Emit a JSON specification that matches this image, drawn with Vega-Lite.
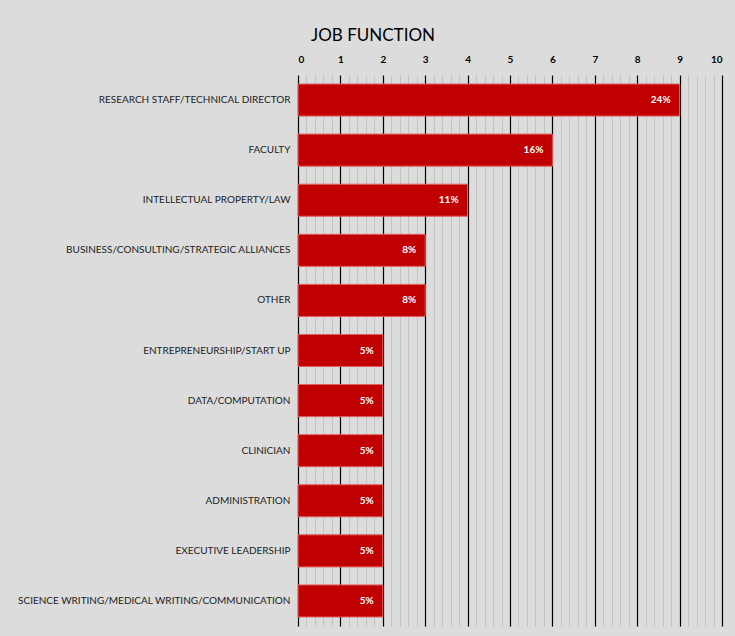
{
  "$schema": "https://vega.github.io/schema/vega-lite/v6.json",
  "autosize": {"type": "none"},
  "width": 424,
  "height": 551,
  "padding": {"left": 298, "top": 75, "right": 13, "bottom": 10},
  "background": "#dcdcdc",
  "title": {
    "text": "JOB FUNCTION",
    "font": "Lato",
    "fontSize": 17,
    "fontWeight": "normal",
    "color": "#000000",
    "anchor": "middle",
    "dx": -137,
    "offset": 9
  },
  "data": {
    "values": [
      {"job": "RESEARCH STAFF/TECHNICAL DIRECTOR", "count": 9, "pct": "24%"},
      {"job": "FACULTY", "count": 6, "pct": "16%"},
      {"job": "INTELLECTUAL PROPERTY/LAW", "count": 4, "pct": "11%"},
      {"job": "BUSINESS/CONSULTING/STRATEGIC ALLIANCES", "count": 3, "pct": "8%"},
      {"job": "OTHER", "count": 3, "pct": "8%"},
      {"job": "ENTREPRENEURSHIP/START UP", "count": 2, "pct": "5%"},
      {"job": "DATA/COMPUTATION", "count": 2, "pct": "5%"},
      {"job": "CLINICIAN", "count": 2, "pct": "5%"},
      {"job": "ADMINISTRATION", "count": 2, "pct": "5%"},
      {"job": "EXECUTIVE LEADERSHIP", "count": 2, "pct": "5%"},
      {"job": "SCIENCE WRITING/MEDICAL WRITING/COMMUNICATION", "count": 2, "pct": "5%"}
    ]
  },
  "encoding": {
    "y": {
      "field": "job",
      "type": "nominal",
      "sort": null,
      "scale": {"paddingInner": 0.36, "paddingOuter": 0.18},
      "axis": {
        "title": null,
        "domain": false,
        "ticks": false,
        "labelPadding": 8,
        "labelLimit": 400,
        "labelFont": "Lato",
        "labelFontSize": 10,
        "labelColor": "#222222"
      }
    },
    "x": {
      "field": "count",
      "type": "quantitative",
      "scale": {"domain": [0, 10], "nice": false},
      "axis": {
        "orient": "top",
        "title": null,
        "domain": false,
        "ticks": false,
        "values": [0,0.2,0.4,0.6,0.8,1,1.2,1.4,1.6,1.8,2,2.2,2.4,2.6,2.8,3,3.2,3.4,3.6,3.8,4,4.2,4.4,4.6,4.8,5,5.2,5.4,5.6,5.8,6,6.2,6.4,6.6,6.8,7,7.2,7.4,7.6,7.8,8,8.2,8.4,8.6,8.8,9,9.2,9.4,9.6,9.8,10],
        "labelExpr": "datum.value % 1 === 0 ? format(datum.value, 'd') : ''",
        "labelOverlap": false,
        "labelFont": "Lato",
        "labelFontSize": 10,
        "labelFontWeight": "bold",
        "labelColor": "#000000",
        "labelPadding": 11,
        "grid": true,
        "gridColor": {"condition": {"test": "datum.value % 1 === 0", "value": "#000000"}, "value": "#c2c2c2"},
        "gridWidth": {"condition": {"test": "datum.value % 1 === 0", "value": 1.2}, "value": 1}
      }
    }
  },
  "layer": [
    {
      "mark": {"type": "bar", "color": "#c00000", "stroke": "#e06060", "strokeWidth": 1}
    },
    {
      "mark": {"type": "text", "align": "right", "dx": -9, "color": "#ffffff", "font": "Lato", "fontSize": 10, "fontWeight": "bold"},
      "encoding": {"text": {"field": "pct"}}
    }
  ],
  "config": {"view": {"stroke": null}}
}
